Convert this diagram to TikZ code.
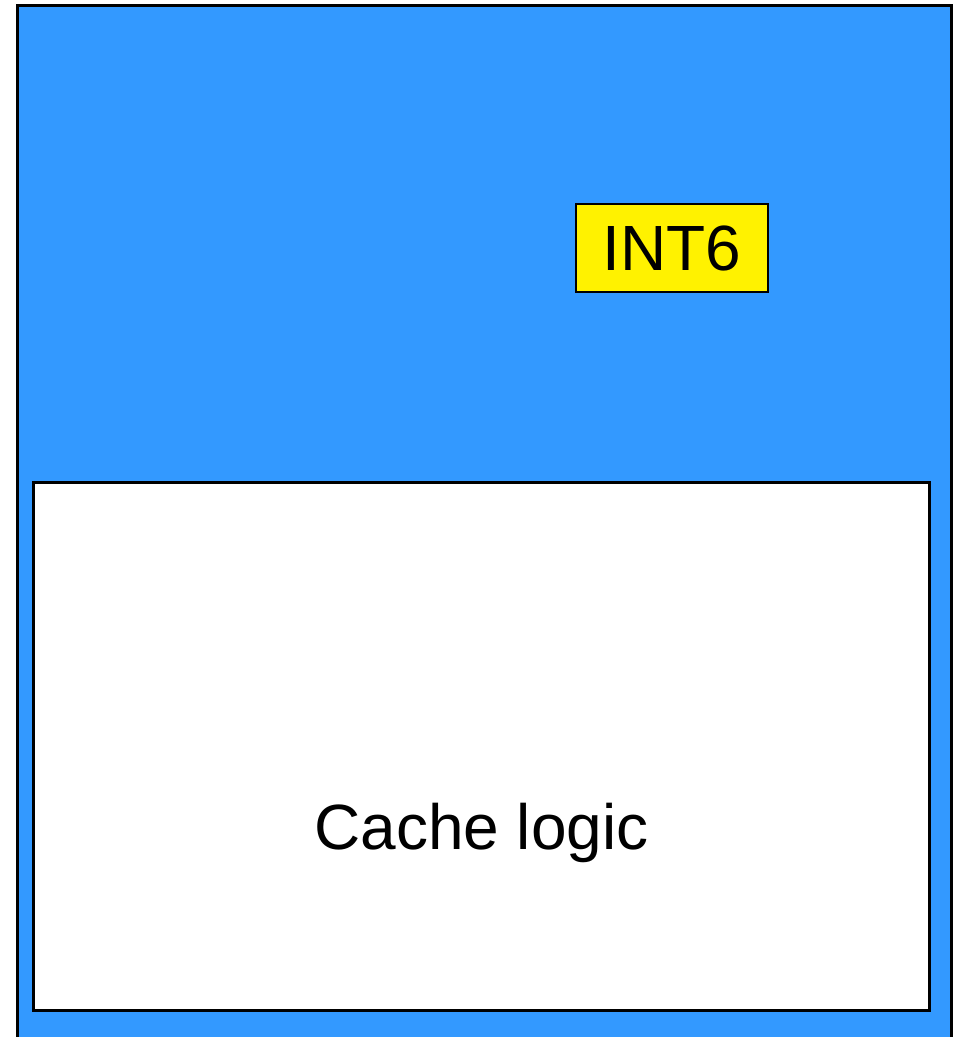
\documentclass[tikz,border=0pt]{standalone}
\usepackage{fontspec}
\setmainfont{Liberation Sans}
\definecolor{chipblue}{RGB}{51,153,255}

\begin{document}
\begin{tikzpicture}[
    box/.style={draw, line width=2pt, rectangle, inner sep=0pt},
    lbl/.style={font=\fontsize{45.5}{48}\selectfont}
]
        \useasboundingbox (0, 0) rectangle (23.85, 25.925);
        \node[name=chip, box, fill=chipblue, minimum width=23.35cm, minimum height=27cm, anchor=north west] at (0.4, 25.825) {};
        \node[name=cache, box, fill=white, minimum width=22.4cm, minimum height=13.2cm, anchor=south west] at (0.8, 0.625) {};
        \node[name=int6, box, fill=yellow, minimum width=4.8cm, minimum height=2.2cm, lbl] at (16.8, 19.725) {INT6};
        \node[name=cachelabel, lbl] at ([yshift=-2.15cm] cache.center) {Cache logic};
    \end{tikzpicture}
\end{document}
